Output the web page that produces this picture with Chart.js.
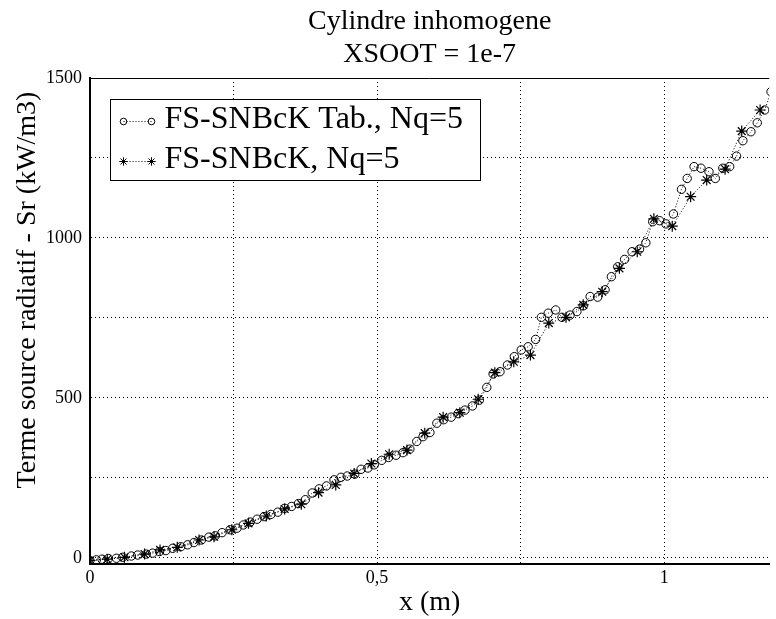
<!DOCTYPE html>
<html>
<head>
<meta charset="utf-8">
<title>Cylindre inhomogene</title>
<script src="https://cdn.jsdelivr.net/npm/chart.js@4.4.1/dist/chart.umd.min.js"></script>
<style>
    html, body { margin: 0; padding: 0; background: #fff; }
    #wrap { width: 776px; height: 619px; }
</style>
</head>
<body>
<div id="wrap"><canvas id="chart" width="776" height="619"></canvas></div>
<script>
// ===============================
// DATA
// ===============================
const titleLines = ["Cylindre inhomogene", "XSOOT = 1e-7"];
const xTitle = "x (m)";
const yTitle = "Terme source radiatif - Sr (kW/m3)";
const seriesLabels = ["FS-SNBcK Tab., Nq=5", "FS-SNBcK, Nq=5"];

// FS-SNBcK Tab. (circles)
const tabX = [0.000, 0.011, 0.021, 0.032, 0.046, 0.057, 0.072, 0.083, 0.098, 0.109,
              0.121, 0.132, 0.144, 0.158, 0.170, 0.181, 0.194, 0.207, 0.218, 0.230,
              0.244, 0.256, 0.267, 0.279, 0.291, 0.303, 0.315, 0.327, 0.339, 0.351,
              0.363, 0.375, 0.387, 0.399, 0.412, 0.425, 0.437, 0.448, 0.461, 0.472,
              0.484, 0.495, 0.508, 0.520, 0.533, 0.545, 0.557, 0.569, 0.580, 0.592,
              0.604, 0.616, 0.629, 0.641, 0.653, 0.666, 0.678, 0.691, 0.702, 0.714,
              0.727, 0.739, 0.751, 0.763, 0.776, 0.786, 0.798, 0.811, 0.822, 0.836,
              0.848, 0.859, 0.871, 0.884, 0.897, 0.908, 0.919, 0.931, 0.944, 0.957,
              0.968, 0.980, 0.992, 1.003, 1.016, 1.030, 1.040, 1.052, 1.064, 1.078,
              1.089, 1.102, 1.114, 1.126, 1.137, 1.151, 1.162, 1.175, 1.186];
const tabY = [-8, -6, -4, -2, -1, 2, 6, 9, 12, 15,
              20, 23, 30, 35, 41, 48, 56, 65, 69, 79,
              88, 93, 103, 112, 121, 129, 136, 143, 155, 161,
              170, 182, 203, 216, 225, 244, 252, 256, 262, 277,
              281, 291, 305, 314, 321, 329, 340, 364, 379, 392,
              421, 432, 440, 451, 462, 475, 493, 533, 575, 582,
              603, 629, 650, 660, 683, 752, 765, 775, 752, 759,
              770, 788, 817, 815, 838, 879, 910, 933, 957, 965,
              985, 1051, 1054, 1044, 1075, 1152, 1186, 1223, 1218, 1207,
              1186, 1218, 1223, 1256, 1304, 1332, 1360, 1400, 1457];

// FS-SNBcK (stars)
const refX = [0.000, 0.030, 0.060, 0.095, 0.122, 0.152, 0.190, 0.216, 0.247, 0.276,
              0.307, 0.339, 0.368, 0.398, 0.428, 0.460, 0.490, 0.521, 0.552, 0.583,
              0.615, 0.644, 0.676, 0.705, 0.738, 0.767, 0.799, 0.829, 0.859, 0.892,
              0.922, 0.953, 0.982, 1.014, 1.046, 1.074, 1.106, 1.135, 1.167];
const refY = [-8, -4, 2, 12, 25, 33, 56, 66, 88, 108,
              131, 153, 168, 204, 228, 264, 295, 324, 337, 390,
              440, 454, 496, 579, 613, 634, 734, 752, 791, 832,
              905, 957, 1060, 1037, 1129, 1181, 1215, 1334, 1400];

const xTicks = [0, 0.25, 0.5, 0.75, 1];
const xTickLabels = ["0", "", "0,5", "", "1"];
const yTicks = [0, 250, 500, 750, 1000, 1250, 1500];
const yTickLabels = ["0", "", "500", "", "1000", "", "1500"];

const SERIF = "'Liberation Serif', 'Times New Roman', serif";


// ===============================
// SMALL MARKER HELPER (legend)
// ===============================
function drawMarker(ctx, style, x, y, r) {
    ctx.beginPath();
    if (style === "circle") {
        ctx.arc(x, y, r, 0, Math.PI * 2);
    } else {
        const d = r * Math.SQRT1_2;
        ctx.moveTo(x - r, y); ctx.lineTo(x + r, y);
        ctx.moveTo(x, y - r); ctx.lineTo(x, y + r);
        ctx.moveTo(x - d, y - d); ctx.lineTo(x + d, y + d);
        ctx.moveTo(x - d, y + d); ctx.lineTo(x + d, y - d);
    }
    ctx.stroke();
}


// ===============================
// PLUGINS: frame, y title, boxed legend
// ===============================
const framePlugin = {
    id: "frame",
    afterDatasetsDraw(chart) {
        const { ctx, chartArea } = chart;
        ctx.save();
        ctx.strokeStyle = "#000";
        ctx.lineWidth = 1;
        ctx.beginPath();
        ctx.moveTo(chartArea.left, chartArea.top + 0.5);
        ctx.lineTo(chartArea.right, chartArea.top + 0.5);
        ctx.stroke();
        ctx.restore();
    }
};

const yTitlePlugin = {
    id: "yTitle",
    afterDraw(chart) {
        const ctx = chart.ctx;
        ctx.save();
        ctx.translate(28, 290);
        ctx.rotate(-Math.PI / 2);
        ctx.font = "28px " + SERIF;
        ctx.fillStyle = "#000";
        ctx.textAlign = "center";
        ctx.textBaseline = "middle";
        ctx.fillText(yTitle, 0, 0);
        ctx.restore();
    }
};

const boxLegendPlugin = {
    id: "boxLegend",
    afterDraw(chart) {
        const { ctx, chartArea } = chart;
        const left = chartArea.left + 20.5;
        const top = chartArea.top + 21.5;
        ctx.save();
        ctx.fillStyle = "#fff";
        ctx.fillRect(left, top, 370, 81);
        ctx.strokeStyle = "#000";
        ctx.lineWidth = 1;
        ctx.strokeRect(left, top, 370, 81);

        chart.data.datasets.forEach((ds, i) => {
            const cy = top + 22 + i * 40;
            ctx.strokeStyle = "#000";
            ctx.setLineDash([1, 2]);
            ctx.beginPath();
            ctx.moveTo(left + 13, cy);
            ctx.lineTo(left + 41, cy);
            ctx.stroke();
            ctx.setLineDash([]);
            const r = ds.pointStyle === "circle" ? 3.3 : 4.2;
            drawMarker(ctx, ds.pointStyle, left + 13, cy, r);
            drawMarker(ctx, ds.pointStyle, left + 41, cy, r);

            ctx.fillStyle = "#000";
            ctx.font = "32px " + SERIF;
            ctx.textBaseline = "alphabetic";
            ctx.fillText(ds.label, left + 54, top + 28.5 + i * 40);
        });
        ctx.restore();
    }
};


// ===============================
// CHART
// ===============================
const ctx = document.getElementById("chart").getContext("2d");

new Chart(ctx, {
    type: "line",
    data: {
        datasets: [
            {
                label: seriesLabels[0],
                data: tabX.map((x, i) => ({ x: x, y: tabY[i] })),
                borderColor: "#000",
                borderWidth: 1,
                borderDash: [1, 2],
                tension: 0,
                pointStyle: "circle",
                pointRadius: 4.2,
                pointBorderWidth: 1,
                pointBorderColor: "#000",
                pointBackgroundColor: "rgba(0,0,0,0)",
                order: 1
            },
            {
                label: seriesLabels[1],
                data: refX.map((x, i) => ({ x: x, y: refY[i] })),
                borderColor: "#000",
                borderWidth: 1,
                borderDash: [1, 2],
                tension: 0,
                pointStyle: "star",
                pointRadius: 5.5,
                pointBorderWidth: 1.2,
                pointBorderColor: "#000",
                pointBackgroundColor: "#000",
                order: 0
            }
        ]
    },
    options: {
        responsive: false,
        animation: false,
        devicePixelRatio: 1,
        layout: { padding: 0 },
        plugins: {
            legend: { display: false },
            tooltip: { enabled: false },
            title: {
                display: true,
                text: titleLines,
                fullSize: false,
                color: "#000",
                font: { family: SERIF, size: 28, weight: "normal", lineHeight: "33px" },
                padding: { top: 5, bottom: 7 }
            }
        },
        scales: {
            x: {
                type: "linear",
                min: 0,
                max: 1.183,
                afterBuildTicks: s => { s.ticks = xTicks.map(v => ({ value: v })); },
                afterFit: s => { s.height = 55; },
                ticks: {
                    callback: (v, i) => xTickLabels[i],
                    color: "#000",
                    font: { family: SERIF, size: 18 },
                    padding: 3,
                    maxRotation: 0,
                    autoSkip: false
                },
                grid: { color: "#000", lineWidth: 1, drawTicks: false },
                border: { display: true, color: "#000", width: 2, dash: [1, 3] },
                title: {
                    display: true,
                    text: xTitle,
                    color: "#000",
                    font: { family: SERIF, size: 28 },
                    padding: { top: 0, bottom: 0 }
                }
            },
            y: {
                type: "linear",
                min: -19,
                max: 1500,
                afterBuildTicks: s => { s.ticks = yTicks.map(v => ({ value: v })); },
                afterFit: s => { s.width = 90; },
                ticks: {
                    callback: (v, i) => yTickLabels[i],
                    color: "#000",
                    font: { family: SERIF, size: 18 },
                    padding: 8,
                    autoSkip: false
                },
                grid: { color: "#000", lineWidth: 1, drawTicks: false },
                border: { display: true, color: "#000", width: 2, dash: [1, 3] }
            }
        }
    },
    plugins: [framePlugin, yTitlePlugin, boxLegendPlugin]
});
</script>
</body>
</html>
